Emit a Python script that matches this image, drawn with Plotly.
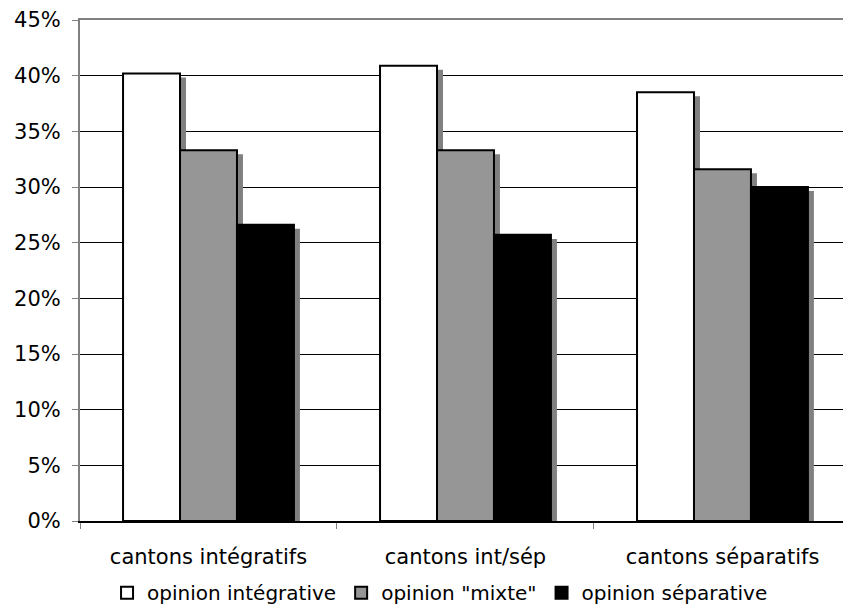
import plotly.graph_objects as go

# Survey results: share of each opinion type by canton group
categories = ["cantons intégratifs", "cantons int/sép", "cantons séparatifs"]
series_names = ["opinion intégrative", 'opinion "mixte"', "opinion séparative"]
integrative = [0.402, 0.409, 0.385]
mixte = [0.333, 0.333, 0.316]
separative = [0.266, 0.257, 0.300]
y_ticks = [0, 0.05, 0.10, 0.15, 0.20, 0.25, 0.30, 0.35, 0.40, 0.45]

series_values = [integrative, mixte, separative]
fills = ["#ffffff", "#969696", "#000000"]

FONT = "DejaVu Sans"
FS = 21
FS_LEGEND = 20

fig = go.Figure()

# drop shadows (drawn on the base axes, offset a few pixels right/down)
for name, vals in zip(series_names, series_values):
    fig.add_trace(go.Bar(
        x=categories, y=vals, name=name, showlegend=False,
        marker=dict(color="#808080", line=dict(width=0)),
        xaxis="x", yaxis="y", hoverinfo="skip",
    ))

# the bars themselves, on overlaying axes
for name, vals, col in zip(series_names, series_values, fills):
    fig.add_trace(go.Bar(
        x=categories, y=vals, name=name,
        marker=dict(color=col, line=dict(color="#000000", width=2)),
        xaxis="x2", yaxis="y2",
    ))

x_range = [-0.5, 2.469]
dx = 0.0233   # horizontal shadow offset in category units
dy = 0.0036   # vertical shadow offset in data units

fig.update_layout(
    width=843, height=606,
    margin=dict(l=80, r=0, t=20, b=85),
    paper_bgcolor="white", plot_bgcolor="white",
    font=dict(family=FONT, size=FS, color="#000000"),
    barmode="group", bargap=0.335, bargroupgap=0,
    showlegend=True,
    legend=dict(orientation="h", xref="container", x=0.522, xanchor="center",
                yref="container", y=0.022, yanchor="middle",
                font=dict(family=FONT, size=FS_LEGEND), itemwidth=30,
                traceorder="normal"),
    xaxis=dict(type="category", range=[x_range[0] - dx, x_range[1] - dx],
               showticklabels=False, ticks="", showgrid=False, zeroline=False,
               side="top", showline=True, linecolor="#808080", linewidth=2,
               automargin=False),
    yaxis=dict(range=[dy, 0.45 + dy], showticklabels=False, ticks="",
               showgrid=False, zeroline=False, showline=False, automargin=False),
    xaxis2=dict(type="category", overlaying="x", anchor="y2", side="bottom",
                range=x_range, tickson="boundaries", ticks="outside", ticklen=6,
                tickcolor="#808080", tickwidth=1, showgrid=False, zeroline=False,
                showline=True, linecolor="#000000", linewidth=2,
                ticklabelstandoff=16, automargin=False,
                tickfont=dict(family=FONT, size=FS)),
    yaxis2=dict(overlaying="y", anchor="x2", side="left", range=[0, 0.45],
                tickvals=y_ticks, tickformat=".0%", ticks="outside", ticklen=6,
                tickcolor="#808080", showgrid=True, gridcolor="#000000", gridwidth=1,
                zeroline=False, showline=True, linecolor="#808080", linewidth=2,
                ticklabelstandoff=7, automargin=False,
                tickfont=dict(family=FONT, size=FS)),
)

fig.write_html("out.html")
